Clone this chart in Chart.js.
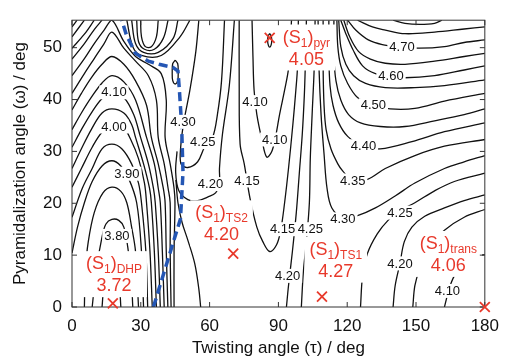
<!DOCTYPE html>
<html>
<head>
<meta charset="utf-8">
<style>
  html, body { margin: 0; padding: 0; background: #fff; }
  canvas { display: block; }
</style>
<script src="https://cdn.jsdelivr.net/npm/chart.js@4.4.1/dist/chart.umd.min.js"></script>
</head>
<body>
<canvas id="pes" width="508" height="361"></canvas>
<script>
// axes
const tauTicks = [0, 30, 60, 90, 120, 150, 180];
const omegaTicks = [0, 10, 20, 30, 40, 50];

// contour lines, [tau, omega] in degrees
// DHP basin (arches around tau ~ 17)
const c375 = [[13.1,0],[14,4.1],[16.1,6.9],[18.3,7.3],[20.4,5],[21.3,0]];
const c380 = [[8.8,0],[10.5,6.9],[13.1,13.5],[14.8,16],[17.4,16.9],[20.4,16.7],[22.6,15.4],[24.3,11.6],[25.8,6],[26.5,0]];
const c385 = [[5.4,0],[5.8,6.9],[7.1,12.6],[9.7,18.2],[13.5,22],[17.4,23.1],[21.3,22.3],[23.9,20.1],[26,15.4],[27.7,10.7],[29,0]];
const c390 = [[0,10.4],[2.4,15.4],[5.4,20.1],[8.8,24.2],[13.1,27.2],[17.4,28.2],[21.3,27.2],[24.7,24.8],[28.2,20.1],[30.3,10.7],[31.2,0]];
const c395 = [[0,17.3],[4.5,22.9],[8.8,26.7],[13.1,30.5],[17.4,31.4],[21.7,30.5],[26,27.6],[29,23.9],[30.3,20.1],[32.2,10.7],[33,0]];
const c400 = [[0,23.1],[4.1,26.7],[8.8,30.8],[13.1,33.7],[17.4,34.8],[22.6,34.4],[25.6,32.3],[29,28.6],[31.6,23.9],[32.5,20.1],[34,10.7],[35,0]];
const c405 = [[0,26.7],[4.1,30.5],[8.4,34.2],[13.1,37.4],[17.4,38.2],[22.6,37.4],[26,35.2],[27.7,32.7],[31.2,27.6],[33.8,22.9],[34.6,20.1],[35.9,10.7],[36.8,0]];
const c410 = [[0,30.8],[4.1,34.2],[8.4,37.4],[13.1,40.2],[17.4,41.4],[22.6,40.4],[26.9,37.1],[29.9,32.7],[33.3,27.6],[35.5,22.9],[36.3,20.1],[37.6,10.7],[38.5,0]];
const c415 = [[0,34.2],[4.1,37.4],[8.4,40.4],[13.1,43.2],[17.4,44.6],[22.6,43.4],[27.7,39.9],[32.5,32.7],[35.9,27.6],[37.6,22.9],[38.5,20.1],[39.4,10.7],[40.2,0]];
const c420 = [[0,38],[4.1,41.2],[8.4,44.2],[13.1,46.8],[17.4,48.3],[22.6,46.8],[27.7,43.6],[32.5,38.9],[34.6,32.7],[37.6,27.6],[39.8,22.9],[40.6,20.1],[41.1,10.7],[41.8,0]];
const c425 = [[0,41.2],[5.4,45],[9.7,47.9],[14,50.8],[17.4,53],[22.6,49.9],[27.7,47.4],[33.3,44.6],[36.8,39.9],[37.6,32.7],[40.2,27.6],[41.9,22.9],[42.8,20.1],[42.8,10.7],[43.2,0]];
const c430 = [[0,44.6],[5.4,47.9],[9.7,50.8],[14,53.4],[17.4,55.3],[22.6,51.2],[27.7,48.3],[33.3,46.8],[38.9,45],[41.1,39.9],[40.6,32.7],[42.8,27.6],[44.5,22.9],[44.9,20.1],[44.5,10.7],[44.5,0]];
const c435 = [[0,47.8],[5.4,50.8],[9.7,53.5],[13.1,55.3]];
const c440 = [[0,49.9],[5.4,52.6],[9.7,55.3]];
const c445 = [[0,52.1],[5.4,55.3]];
const c450 = [[0,54],[2.2,55.3]];

// bowl hanging from the top edge near the path
const topU1 = [[29.9,55.3],[30.3,52.1],[32,50.2],[34.6,50.2],[36.8,52.1],[37.6,55.3]];
const topU2 = [[28.2,55.3],[29,51.2],[31.6,49.7],[35.9,49.7],[39.8,51.8],[41.9,55.3]];
const topU3 = [[26,55.3],[27.7,50.8],[31.2,49.1],[37.6,49.1],[44.1,51.8],[46.2,55.3]];
const topU4 = [[23.9,55.3],[26.5,50.2],[30.3,48.5],[38.9,48.5],[47.1,52.1],[51.4,55.3]];
const loopTS = [[45,47.6],[46.1,46.9],[46.3,45.3],[46.1,43.7],[45,43],[43.9,43.7],[43.7,45.3],[43.9,46.9],[45,47.6]];

// middle region
const mid430 = [[55.3,55.3],[54,49.3],[51.4,41.8],[48.8,35.8],[47.5,31.4],[47.5,27.6],[50.5,26.9],[54.8,28],[57.8,30.8],[61.3,32.7],[63.4,37.1],[65.2,43.6],[66.5,55.3]];
const mid420 = [[45.8,30],[45.2,26],[46.6,22.4],[50.5,20.7],[54.8,20.5],[59.1,21.2],[62.6,22],[64.3,23.9],[64.3,26.7],[65.6,33.3],[68.6,42.7],[70.8,55.3]];
const mid415 = [[45.3,24.5],[46.2,20.1],[48,16.3],[50.5,12.9],[53.5,8.4],[55.3,3.5],[56.1,0]];
const pyr410 = [[78.5,55.3],[78.9,48.3],[79.4,41.8],[80.6,37.1],[82.8,32.3],[84.9,28.9],[87.1,30],[88.8,32.9],[90.5,37.1],[92.7,41.8],[94.4,45.9],[95.3,51.2],[95.7,55.3]];
const pyr415 = [[72.9,55.3],[72.9,42.7],[73.3,31.4],[75.1,27.6],[77.6,21],[80.6,15.4],[83.2,12.6],[86.2,10.7],[89.2,12],[91,14.8],[92.7,20.1],[94.4,26.7],[96.3,35.2],[97.6,41.8],[98.3,46.1],[98.7,55.3]];
const pyrLoop = [[86.2,52.7],[86.8,52.3],[87.1,51.4],[86.8,50.5],[86.2,50.1],[85.6,50.5],[85.3,51.4],[85.6,52.3],[86.2,52.7]];
const v420 = [[93.5,0],[94.4,4.1],[96.1,10.7],[97.8,18.2],[99.1,25.7],[100.4,33.3],[101.3,40.8],[101.7,46.1],[102.2,55.3]];
const v425 = [[100,0],[100.9,6.9],[102.2,12.6],[103.5,20.1],[103.9,28.6],[104.7,37.1],[105.6,46.1],[106,55.3]];

// right region
const r410 = [[162.4,0],[163.3,1.6],[164,3],[166.7,6],[170.1,7.9],[175.3,9.7],[180,10.1]];
const r415 = [[148.6,0],[149.5,4.1],[151.6,7.3],[155.9,11.6],[162.4,14.8],[171,17.3],[180,18.8]];
const r420 = [[140,0],[140.9,4.1],[143,8.4],[144.9,12.6],[148.2,15.4],[153.8,17.5],[162.4,19.1],[171,20.5],[180,21.6]];
const r425 = [[125.8,0],[126.7,6],[128.8,10.3],[133.1,14.1],[137.8,16.7],[143,18.6],[149.5,20.1],[158.1,22.4],[166.7,24.2],[180,25.8]];
const r430 = [[107.3,55.3],[107.7,46.1],[108.6,37.1],[109.9,29.5],[111.2,22.9],[113.3,19.1],[118.5,17.1],[124.5,17.6],[132.3,19.1],[140.9,21.4],[149.5,23.9],[162.4,26.7],[171,28],[180,29.2]];
const r435 = [[109.5,55.3],[109.5,46.1],[109.9,38.9],[110.8,34.2],[112.9,30.5],[115.9,27.6],[118.1,26.2],[122.4,24.4],[128.8,24.6],[136.6,26.7],[149.5,29.2],[162.4,31],[180,32.3]];
const r440 = [[112,55.3],[112,48.3],[112.5,42.7],[113.8,38.9],[116.3,35.5],[120.2,32.9],[126.7,31],[134.4,30.5],[148.2,31.9],[162.4,33.8],[180,35.5]];
const r445 = [[114.2,55.3],[114.2,48.3],[115.1,43.6],[117.2,39.9],[120.6,37.1],[125.8,35.5],[134.4,34.8],[145.2,34.8],[158.1,35.9],[171,37.1],[180,38.2]];
const r450 = [[115.5,55.3],[115.9,50.2],[117.2,46.5],[120.2,43.1],[124.5,40.4],[131,38.9],[138.7,38.2],[149.5,38.3],[162.4,39.7],[180,41.2]];
const r455 = [[116.3,55.3],[117.2,50.2],[119.4,46.8],[122.8,44.6],[128,43.1],[136.6,42.3],[149.5,42.3],[162.4,42.7],[180,43.8]];
const r460 = [[117.2,55.3],[119.4,52.7],[122.4,49.7],[126.7,46.5],[132.3,45],[138.7,44.6],[145.2,44.2],[158.1,44.6],[171,45.7],[180,46.5]];
const r465 = [[118.5,55.3],[121.1,52.1],[124.9,49.3],[130.1,47.8],[136.6,47],[145.2,46.8],[158.1,47.4],[171,48.3],[180,48.9]];
const r470 = [[120.2,55.3],[123.7,53.4],[129.2,51.5],[135.3,50.6],[143,50.2],[151.6,49.9],[162.4,50.2],[171,51],[180,51.5]];
const r475 = [[124.5,55.3],[131,54],[136.6,53.4],[145.2,52.7],[158.1,53],[171,53.6],[180,54]];
const r480 = [[140,55.3],[145.2,54.7],[151.6,54.5],[158.1,54.7],[161.3,55.3]];

// reaction path (blue dashed)
const pathPoints = [[35.5,0],[47.3,17],[48.4,26],[47.8,35],[46.8,42],[46.2,45.5],[44,46.2],[38,46.8],[33.3,47.4],[27.7,48.9],[23.7,52.5],[21.7,55.3]];

// stationary points
const stateNames = ["DHP", "TS2", "pyr", "TS1", "trans"];
const stateEnergies = ["3.72", "4.20", "4.05", "4.27", "4.06"];
const stateTau = [17.8, 70.3, 86.2, 109, 180];
const stateOmega = [0.7, 10.3, 51.9, 2, 0];
const stateLabelTau = [18.3, 65.2, 102.2, 115, 164.1];
const stateLabelOmega = [7.3, 17.1, 51, 10.1, 11.2];

// contour level labels
const levelText = ["4.10","4.00","3.90","3.80","4.30","4.25","4.20","4.15","4.10","4.10","4.15","4.25","4.20","4.30","4.35","4.40","4.50","4.60","4.70","4.25","4.20","4.10"];
const levelTau = [18.3,18.3,23.9,19.6,48.4,57,60.4,76.3,79.8,88.4,91.8,103.9,94,118.1,122.4,127.1,131.4,139.1,143.9,143,143,163.7];
const levelOmega = [41.4,34.8,25.7,13.7,35.7,31.8,23.7,24.4,39.5,32.3,15,15,6,16.9,24.4,31,38.9,44.6,50.2,18.2,8.4,3.1];

const contours = [c375, c380, c385, c390, c395, c400, c405, c410, c415, c420, c425, c430,
  c435, c440, c445, c450, topU1, topU2, topU3, topU4, loopTS,
  mid430, mid420, mid415, pyr410, pyr415, pyrLoop, v420, v425,
  r410, r415, r420, r425, r430, r435, r440, r445, r450, r455, r460, r465, r470, r475, r480];

const FONT = "'Liberation Sans', Arial, Helvetica, sans-serif";
const RED = "#e8392b";
Chart.defaults.font.family = FONT;
Chart.defaults.color = "#111";

// lower order is drawn later (on top)
const datasets = contours.map((pts) => ({
  data: pts.map(([x, y]) => ({ x, y })),
  showLine: true,
  borderColor: "#111",
  borderWidth: 1.3,
  pointRadius: 0,
  tension: 0.35,
  order: 2,
}));

datasets.push({
  data: pathPoints.map(([x, y]) => ({ x, y })),
  showLine: true,
  borderColor: "#2456b4",
  borderWidth: 3.5,
  borderDash: [9, 5],
  pointRadius: 0,
  tension: 0,
  order: 1,
});

const markerIndex = datasets.length;
datasets.push({
  data: stateTau.map((t, i) => ({ x: t, y: stateOmega[i] })),
  showLine: false,
  pointStyle: "crossRot",
  pointRadius: 7,
  borderColor: RED,
  borderWidth: 1.8,
  clip: false,
  order: 0,
});

function drawLevelLabels(chart) {
  const { ctx, scales: { x, y } } = chart;
  ctx.save();
  ctx.font = "13px " + FONT;
  ctx.textAlign = "center";
  ctx.textBaseline = "middle";
  levelText.forEach((t, i) => {
    const px = x.getPixelForValue(levelTau[i]);
    const py = y.getPixelForValue(levelOmega[i]);
    const w = ctx.measureText(t).width;
    ctx.fillStyle = "#fff";
    ctx.fillRect(px - w / 2 - 2, py - 7, w + 4, 14);
    ctx.fillStyle = "#111";
    ctx.fillText(t, px, py + 0.5);
  });
  ctx.restore();
}

function drawStateLabels(chart) {
  const { ctx, scales: { x, y } } = chart;
  const big = "18px " + FONT;
  const small = "12px " + FONT;
  ctx.save();
  ctx.textBaseline = "alphabetic";
  stateNames.forEach((name, i) => {
    const cx = x.getPixelForValue(stateLabelTau[i]);
    const by = y.getPixelForValue(stateLabelOmega[i]);
    const parts = [["(S", big, 0], ["1", small, 4], [")", big, 0], [name, small, 4]];
    let total = 0;
    parts.forEach((p) => {
      ctx.font = p[1];
      p.push(ctx.measureText(p[0]).width);
      total += p[3];
    });
    ctx.font = big;
    const ew = ctx.measureText(stateEnergies[i]).width;
    const half = Math.max(total, ew) / 2;
    ctx.fillStyle = "#fff";
    ctx.fillRect(cx - half - 5, by - 18, half * 2 + 10, 46);
    ctx.fillStyle = RED;
    let px = cx - total / 2;
    parts.forEach((p) => {
      ctx.font = p[1];
      ctx.fillText(p[0], px, by + p[2]);
      px += p[3];
    });
    ctx.font = big;
    ctx.textAlign = "center";
    ctx.fillText(stateEnergies[i], cx, by + 22);
    ctx.textAlign = "left";
  });
  ctx.restore();
}

function drawFrame(chart) {
  const { ctx, chartArea: a, scales: { x, y } } = chart;
  ctx.save();
  ctx.strokeStyle = "#333";
  ctx.lineWidth = 1;
  ctx.strokeRect(a.left, a.top, a.right - a.left, a.bottom - a.top);
  ctx.beginPath();
  tauTicks.forEach((v) => {
    const px = x.getPixelForValue(v);
    ctx.moveTo(px, a.bottom); ctx.lineTo(px, a.bottom - 5);
    ctx.moveTo(px, a.top); ctx.lineTo(px, a.top + 5);
  });
  omegaTicks.forEach((v) => {
    const py = y.getPixelForValue(v);
    ctx.moveTo(a.left, py); ctx.lineTo(a.left + 5, py);
    ctx.moveTo(a.right, py); ctx.lineTo(a.right - 5, py);
  });
  ctx.stroke();
  ctx.restore();
}

const overlay = {
  id: "overlay",
  beforeDatasetDraw(chart, args) {
    if (args.index === markerIndex) {
      drawLevelLabels(chart);
      drawStateLabels(chart);
      drawFrame(chart);
    }
  },
};

new Chart(document.getElementById("pes"), {
  type: "scatter",
  data: { datasets },
  options: {
    responsive: false,
    animation: false,
    layout: { padding: { top: 13, right: 17, left: 0, bottom: 0 } },
    plugins: { legend: { display: false }, tooltip: { enabled: false } },
    scales: {
      x: {
        type: "linear",
        min: 0,
        max: 180,
        afterBuildTicks: (s) => { s.ticks = tauTicks.map((v) => ({ value: v })); },
        afterFit: (s) => { s.height = 54; },
        grid: { display: false, drawTicks: false },
        border: { display: false },
        ticks: { padding: 9, font: { size: 17 }, maxRotation: 0 },
        title: { display: true, text: "Twisting angle (τ) / deg", font: { size: 17 }, padding: { top: 0, bottom: 2 } },
      },
      y: {
        type: "linear",
        min: 0,
        max: 55.3,
        afterBuildTicks: (s) => { s.ticks = omegaTicks.map((v) => ({ value: v })); },
        afterFit: (s) => { s.width = 72; },
        grid: { display: false, drawTicks: false },
        border: { display: false },
        ticks: { padding: 10, font: { size: 17 } },
        title: { display: true, text: "Pyramidalization angle (ω) / deg", font: { size: 17 }, padding: { top: 10, bottom: 0 } },
      },
    },
  },
  plugins: [overlay],
});
</script>
</body>
</html>
